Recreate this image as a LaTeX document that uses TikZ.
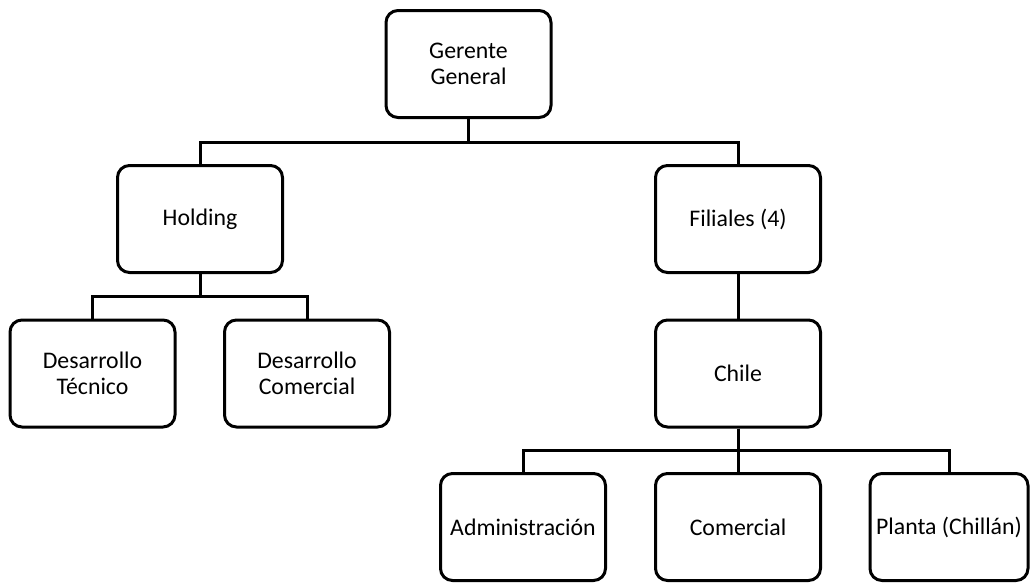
\documentclass[tikz,border=0pt]{standalone}
\usepackage{fontspec}
\setmainfont{Carlito}
\begin{document}
\begin{tikzpicture}[x=1pt,y=-1pt,
  box/.style={draw=black,line width=3pt,rounded corners=12pt,fill=white,minimum width=165pt,minimum height=107pt,align=center,inner sep=2pt,font=\fontsize{23.8}{26}\selectfont},
  conn/.style={line width=3pt}]
\useasboundingbox (0,0) rectangle (1030,584);
\node[box] (gg) at (468.5,64) {Gerente\\General};
\node[box] (hold) at (200,219) {Holding};
\node[box] (fil) at (738,219) {Filiales (4)};
\node[box] (dt) at (92.5,373.5) {Desarrollo\\Técnico};
\node[box] (dc) at (307,373.5) {Desarrollo\\Comercial};
\node[box] (chile) at (738,373.5) {Chile};
\node[box] (adm) at (523,527) {Administración};
\node[box] (com) at (738,527) {Comercial};
\node[box,minimum width=158pt] (pla) at (949,527) {Planta (Chillán)};
\draw[conn] (gg.south) |- (200,142) -- (hold.north);
\draw[conn] (gg.south) |- (738,142) -- (fil.north);
\draw[conn] (hold.south) |- (92.5,296) -- (dt.north);
\draw[conn] (hold.south) |- (307,296) -- (dc.north);
\draw[conn] (fil.south) -- (chile.north);
\draw[conn] (chile.south) |- (523,450) -- (adm.north);
\draw[conn] (chile.south) -- (com.north);
\draw[conn] (chile.south) |- (949,450) -- (pla.north);
\end{tikzpicture}
\end{document}
